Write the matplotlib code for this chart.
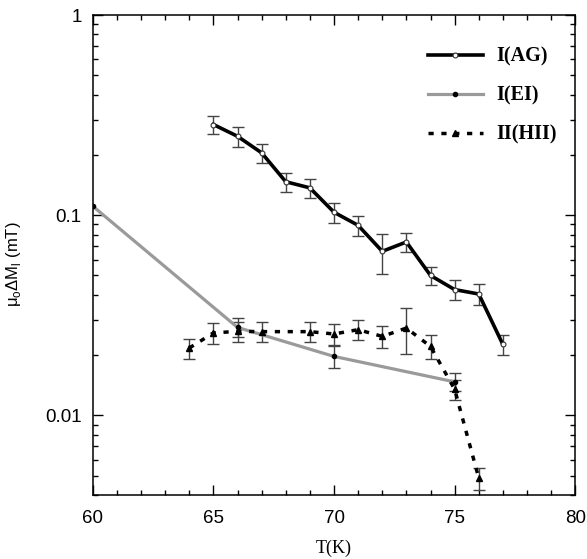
import numpy as np
import matplotlib
matplotlib.use('Agg')
import matplotlib.pyplot as plt
from matplotlib.ticker import MultipleLocator, LogLocator, FixedLocator, FixedFormatter, NullFormatter

plt.rcParams['font.family'] = 'Liberation Sans'
plt.rcParams['mathtext.fontset'] = 'custom'
plt.rcParams['mathtext.rm'] = 'Liberation Sans'

# I(AG) - black solid
ag_t = [65, 66, 67, 68, 69, 70, 71, 72, 73, 74, 75, 76, 77]
ag_m = [0.284, 0.248, 0.205, 0.147, 0.137, 0.1035, 0.089, 0.066, 0.0735, 0.050, 0.0425, 0.0404, 0.0226]
ag_err = [0.030, 0.028, 0.022, 0.016, 0.015, 0.012, 0.010, 0.015, 0.008, 0.005, 0.005, 0.005, 0.0025]

# I(EI) - gray
ei_t = [60, 66, 70, 75]
ei_m = [0.111, 0.0275, 0.0197, 0.0147]
ei_err = [np.nan, 0.003, 0.0025, 0.0015]

# II(HII) - dotted
hii_t = [64, 65, 66, 67, 69, 70, 71, 72, 73, 74, 75, 76]
hii_m = [0.0217, 0.0258, 0.0263, 0.0262, 0.0262, 0.0255, 0.0268, 0.0248, 0.0273, 0.0221, 0.0135, 0.00486]
hii_err = [0.0025, 0.003, 0.003, 0.003, 0.003, 0.003, 0.003, 0.003, 0.007, 0.003, 0.0015, 0.0006]

fig = plt.figure(figsize=(5.87, 5.59), dpi=100)
ax = fig.add_axes([0.158, 0.1145, 0.822, 0.8585])

ebkw = dict(fmt='none', ecolor='#444444', elinewidth=1, capsize=4, capthick=1, zorder=2)

ei_t_a = np.array(ei_t)
ei_m_a = np.array(ei_m)
ei_err_a = np.array(ei_err)
ok = ~np.isnan(ei_err_a)

ax.errorbar(ag_t, ag_m, yerr=ag_err, **ebkw)
ax.errorbar(ei_t_a[ok], ei_m_a[ok], yerr=ei_err_a[ok], **ebkw)
ax.errorbar(hii_t, hii_m, yerr=hii_err, **ebkw)

ax.plot(ei_t, ei_m, color='#9a9a9a', lw=2.3, marker='o', ms=3, mfc='black', mec='black',
        label='I(EI)', zorder=3)
ax.plot(hii_t, hii_m, color='black', lw=2.5, linestyle=(0, (1.5, 2.2)), marker='^', ms=4,
        mfc='black', mec='black', label='II(HII)', zorder=4)
ax.plot(ag_t, ag_m, color='black', lw=2.6, marker='o', ms=3.5, mfc='white', mec='#333333',
        mew=0.8, label='I(AG)', zorder=5)

ax.set_xlim(60, 80)
ax.set_yscale('log')
ax.set_ylim(0.004, 1)

ax.xaxis.set_major_locator(MultipleLocator(5))
ax.xaxis.set_minor_locator(MultipleLocator(1))
ax.yaxis.set_major_locator(FixedLocator([0.01, 0.1, 1]))
ax.yaxis.set_major_formatter(FixedFormatter(['0.01', '0.1', '1']))
ax.yaxis.set_minor_locator(LogLocator(base=10, subs=np.arange(2, 10)))
ax.yaxis.set_minor_formatter(NullFormatter())

ax.tick_params(which='both', direction='in', top=True, right=True, width=1)
ax.tick_params(which='major', length=7, labelsize=13.5)
ax.tick_params(which='minor', length=3.5)
ax.tick_params(axis='x', which='major', pad=11)
ax.tick_params(axis='y', which='major', pad=8)
for s in ax.spines.values():
    s.set_linewidth(1.1)

ax.set_xlabel('T(K)', family='Liberation Serif', fontsize=13, labelpad=9)
ax.set_ylabel('μ$_\\mathrm{o}$ΔM$_\\mathrm{l}$ (mT)', fontsize=12)
ax.yaxis.set_label_coords(-0.145, 0.48)

handles, labels = ax.get_legend_handles_labels()
order = [2, 0, 1]
ax.legend([handles[i] for i in order], [labels[i] for i in order], loc='upper right',
          bbox_to_anchor=(1.0, 0.972), frameon=False, numpoints=1, handlelength=2.7,
          handletextpad=0.7, labelspacing=0.95,
          prop={'family': 'Liberation Serif', 'weight': 'bold', 'size': 14.5})

fig.savefig('out.png', dpi=100)
